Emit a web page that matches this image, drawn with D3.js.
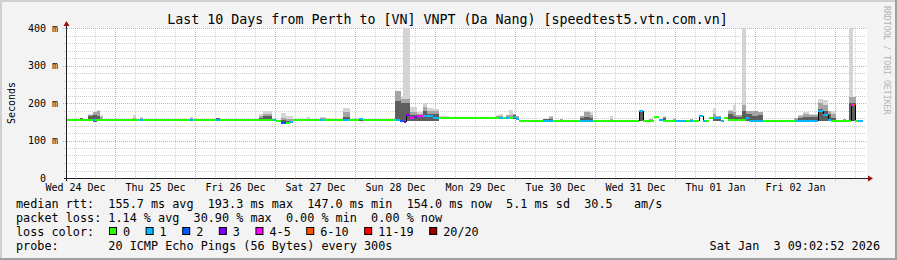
<!DOCTYPE html>
<html>
<head>
<meta charset="utf-8">
<script src="https://cdn.jsdelivr.net/npm/d3@7"></script>
<style>
  html, body { margin: 0; padding: 0; background: #f3f3f3; }
  svg { display: block; }
  text { font-family: "DejaVu Sans Mono", monospace; white-space: pre; }
</style>
</head>
<body>
<svg id="chart" width="897" height="260"></svg>
<script>
const title = 'Last 10 Days from Perth to [VN] VNPT (Da Nang) [speedtest5.vtn.com.vn]';
const startTime = new Date(2025, 11, 24, 9, 18);
const endTime = new Date(2026, 0, 3, 9, 18);
const yTicks = [0, 100, 200, 300, 400];

const lossLabels = ['0', '1', '2', '3', '4-5', '6-10', '11-19', '20/20'];
const lossColors = ['#26ff00', '#00b8ff', '#0059ff', '#7e00ff', '#ff00ff', '#ff5500', '#ff0000', '#a10000'];

// median rtt, step series: start hour (from startTime), value in ms, loss class
const medianH = [0, 8.1, 8.7, 9.6, 22.2, 23.1, 37.2, 38.1, 45.0, 46.2, 62.1, 63.0, 64.5, 66.0, 67.2, 68.1,
  76.2, 77.1, 83.1, 84.9, 87.9, 89.1, 99.0, 100.2, 101.4, 102.0, 103.2, 104.4, 105.3, 107.1, 108.0, 110.1,
  111.9, 129.9, 131.1, 132.0, 132.9, 134.1, 135.0, 135.9, 143.1, 146.1, 154.2, 158.1, 171.9, 173.1, 176.4,
  177.9, 179.1, 183.0, 186.0, 187.2, 188.1, 189.9, 191.1, 192.0, 192.9, 194.1, 196.5, 197.4, 198.6, 204.0,
  204.9, 209.1, 219.0, 225.6, 227.1, 228.6, 229.5, 235.5, 236.1, 236.7, 237.6];
const medianMs = [154, 155, 155, 154, 154, 154, 154, 154, 154, 154, 155, 153, 147, 147, 150, 154,
  154, 154, 155, 154, 157, 154, 155, 151, 150, 167, 161, 163, 165, 165, 166, 161,
  160, 160, 160, 160, 160, 164, 157, 153, 153, 153, 153, 153, 180, 153, 163,
  155, 153, 153, 153, 153, 153, 166, 153, 153, 159, 159, 153, 159, 154, 160,
  153, 153, 153, 178, 167, 155, 153, 194, 195, 153, 153];
const medianLoss = [0, 1, 0, 0, 1, 0, 1, 0, 1, 0, 1, 0, 2, 0, 1, 0,
  1, 0, 1, 0, 1, 0, 1, 2, 3, 3, 4, 3, 4, 1, 1, 1,
  0, 1, 0, 1, 0, 1, 1, 0, 1, 0, 1, 0, 1, 0, 0,
  1, 0, 1, 0, 1, 0, 1, 1, 0, 0, 1, 1, 0, 0, 1,
  1, 0, 1, 1, 1, 1, 0, 4, 5, 0, 1];
const medianEndH = 239.1;

// smoke (ping spread): hour range, low and the tops of the dark / mid / light bands in ms
const smokeFromH = [4.2, 6.6, 8.1, 9.3, 10.2, 20.1, 22.2, 37.2, 45.0, 57.9, 59.1, 64.5, 66.0, 68.1, 72.0, 76.2,
  78.0, 80.1, 83.1, 87.9, 98.7, 100.5, 101.1, 103.2, 105.3, 107.1, 108.3, 110.1, 111.9, 129.0, 129.9, 132.0,
  132.9, 134.1, 135.0, 143.1, 144.9, 148.2, 154.2, 155.4, 157.2, 163.2, 171.9, 174.9, 179.1, 182.1, 187.2,
  194.1, 195.0, 198.6, 200.1, 201.0, 202.8, 204.0, 205.8, 207.6, 218.4, 219.6, 221.1, 222.9, 225.6, 227.1,
  228.6, 229.5, 233.1, 234.9, 236.1];
const smokeToH = [5.1, 8.1, 9.3, 10.2, 11.1, 21.0, 23.1, 38.1, 46.2, 59.1, 61.8, 66.0, 68.1, 69.9, 73.2, 78.0,
  79.2, 82.2, 85.2, 89.1, 100.5, 101.1, 103.2, 105.3, 107.1, 108.3, 110.1, 111.9, 114.9, 129.9, 131.1, 132.9,
  134.1, 135.0, 135.9, 144.9, 146.1, 149.1, 155.4, 157.2, 158.1, 164.1, 173.1, 176.1, 180.0, 183.0, 188.1,
  195.0, 196.5, 200.1, 201.0, 202.8, 204.0, 205.8, 207.6, 209.1, 219.6, 221.1, 222.9, 225.6, 227.1, 228.6,
  229.5, 231.0, 234.0, 236.1, 237.0];
const smokeLow = [151, 151, 150, 151, 151, 151, 151, 151, 151, 151, 151, 145, 146, 151, 151, 151,
  151, 151, 151, 151, 151, 151, 151, 151, 151, 151, 151, 151, 158, 158, 158, 158,
  158, 158, 155, 151, 151, 151, 151, 151, 151, 151, 151, 151, 151, 151, 151,
  151, 151, 151, 151, 151, 151, 151, 151, 151, 151, 151, 151, 151, 151, 151,
  151, 151, 151, 151, 151];
const smokeDark = [159, 165, 168, 166, 158, 158, 157, 158, 160, 160, 165, 155, 152, 154, 151, 158,
  151, 158, 163, 158, 205, 200, 200, 168, 165, 178, 170, 170, 160, 160, 160, 162,
  162, 167, 160, 158, 158, 155, 160, 163, 160, 151, 180, 156, 160, 156, 156,
  160, 160, 170, 165, 163, 180, 170, 166, 168, 156, 160, 163, 162, 185, 180,
  170, 160, 156, 200, 200];
const smokeMid = [160, 168, 175, 180, 163, 160, 160, 160, 161, 165, 172, 160, 158, 156, 151, 160,
  151, 158, 177, 158, 232, 212, 212, 177, 170, 190, 178, 180, 160, 166, 165, 168,
  168, 170, 165, 158, 163, 157, 165, 175, 168, 158, 181, 158, 164, 158, 158,
  170, 165, 178, 175, 168, 195, 178, 178, 176, 160, 165, 170, 168, 199, 195,
  178, 170, 158, 215, 215];
const smokeLight = [160, 170, 176, 182, 168, 167, 164, 164, 161, 172, 180, 173, 165, 158, 162, 163,
  161, 158, 187, 158, 232, 215, 430, 189, 177, 200, 188, 183, 166, 168, 172, 168,
  181, 170, 165, 158, 166, 157, 165, 180, 175, 166, 181, 158, 165, 158, 158,
  186, 165, 181, 195, 168, 430, 178, 178, 176, 160, 168, 177, 172, 212, 208,
  180, 178, 158, 430, 215];

const rttLabel = 'median rtt:';
const rttStats = ['155.7 ms avg', '193.3 ms max', '147.0 ms min', '154.0 ms now', '5.1 ms sd', '30.5   am/s'];
const lossLabel = 'packet loss:';
const lossStats = ['1.14 % avg', '30.90 % max', '0.00 % min', '0.00 % now'];
const probeLabel = 'probe:';
const probeText = '20 ICMP Echo Pings (56 Bytes) every 300s';
const stampText = 'Sat Jan  3 09:02:52 2026';

// layout
const width = 897, height = 260;
const plot = {left: 66, right: 866, top: 28, bottom: 178};
const smokeColors = {light: '#d4d4d4', mid: '#a4a4a4', dark: '#5e5e5e'};

const svg = d3.select('#chart');
const at = h => new Date(+startTime + h * 3600e3);

const x = d3.scaleTime().domain([startTime, endTime]).range([plot.left, plot.right]);
const y = d3.scaleLinear().domain([0, 400]).range([plot.bottom, plot.top]);

// frame
svg.append('rect').attr('width', width).attr('height', height).attr('fill', '#f3f3f3');
svg.append('path').attr('d', `M0,${height}V0H${width}`).attr('fill', 'none')
  .attr('stroke', '#d0d0d0').attr('stroke-width', 4);
svg.append('path').attr('d', `M0,${height}H${width}V0`).attr('fill', 'none')
  .attr('stroke', '#a0a0a0').attr('stroke-width', 4);

svg.append('rect')
  .attr('x', plot.left).attr('y', plot.top)
  .attr('width', plot.right - plot.left + 1).attr('height', plot.bottom - plot.top)
  .attr('fill', '#ffffff');

svg.append('defs').append('clipPath').attr('id', 'clip')
  .append('rect')
    .attr('x', plot.left).attr('y', plot.top)
    .attr('width', plot.right - plot.left).attr('height', plot.bottom - plot.top);

// grid
const grid = svg.append('g').attr('shape-rendering', 'crispEdges');
const sixHours = d3.timeHour.every(6).range(startTime, endTime);
const minorX = sixHours.filter(d => d.getHours() !== 0);
const majorX = sixHours.filter(d => d.getHours() === 0);
const minorY = d3.range(20, 401, 20).filter(v => v % 100 !== 0);
const majorY = [100, 200, 300, 400];

grid.selectAll('.vmin').data(minorX).enter().append('line')
  .attr('x1', d => Math.round(x(d)) + 0.5).attr('x2', d => Math.round(x(d)) + 0.5)
  .attr('y1', plot.top).attr('y2', plot.bottom + 2)
  .attr('stroke', '#cfcfcf').attr('stroke-dasharray', '1,1');
grid.selectAll('.hmin').data(minorY).enter().append('line')
  .attr('x1', plot.left - 2).attr('x2', plot.right)
  .attr('y1', d => Math.round(y(d)) + 0.5).attr('y2', d => Math.round(y(d)) + 0.5)
  .attr('stroke', '#cfcfcf').attr('stroke-dasharray', '1,1');
grid.selectAll('.vmaj').data(majorX).enter().append('line')
  .attr('x1', d => Math.round(x(d)) + 0.5).attr('x2', d => Math.round(x(d)) + 0.5)
  .attr('y1', plot.top).attr('y2', plot.bottom + 3)
  .attr('stroke', '#eaa0a0').attr('stroke-dasharray', '1,1');
grid.selectAll('.hmaj').data(majorY).enter().append('line')
  .attr('x1', plot.left - 3).attr('x2', plot.right)
  .attr('y1', d => Math.round(y(d)) + 0.5).attr('y2', d => Math.round(y(d)) + 0.5)
  .attr('stroke', '#eaa0a0').attr('stroke-dasharray', '1,1');

// smoke
const smoke = svg.append('g').attr('clip-path', 'url(#clip)').attr('shape-rendering', 'crispEdges');
const smokeData = smokeFromH.map((h, i) => ({
  from: at(h), to: at(smokeToH[i]), low: smokeLow[i],
  dark: smokeDark[i], mid: smokeMid[i], light: smokeLight[i]
}));
['light', 'mid', 'dark'].forEach(band => {
  smoke.selectAll('.s-' + band)
    .data(smokeData.filter(d => d[band] > d.low))
    .enter()
    .append('rect')
      .attr('x', d => x(d.from))
      .attr('width', d => x(d.to) - x(d.from))
      .attr('y', d => y(d[band]))
      .attr('height', d => y(d.low) - y(d[band]))
      .attr('fill', smokeColors[band]);
});

// median, coloured by packet loss
const medianData = medianH.map((h, i) => ({
  from: at(h), to: at(i < medianH.length - 1 ? medianH[i + 1] : medianEndH),
  ms: medianMs[i], loss: medianLoss[i]
}));
const jumps = [];
medianData.forEach((d, i) => {
  if (i > 0 && Math.abs(y(d.ms) - y(medianData[i - 1].ms)) > 4) {
    jumps.push({t: d.from, a: medianData[i - 1].ms, b: d.ms});
  }
});
const median = svg.append('g').attr('clip-path', 'url(#clip)').attr('shape-rendering', 'crispEdges');
median.selectAll('line.jump')
  .data(jumps)
  .enter()
  .append('line')
    .attr('x1', d => Math.round(x(d.t)) + 0.5).attr('x2', d => Math.round(x(d.t)) + 0.5)
    .attr('y1', d => y(d.a)).attr('y2', d => y(d.b))
    .attr('stroke', '#000');
median.selectAll('rect')
  .data(medianData)
  .enter()
  .append('rect')
    .attr('x', d => x(d.from))
    .attr('width', d => x(d.to) - x(d.from))
    .attr('y', d => y(d.ms) - 1)
    .attr('height', 2)
    .attr('fill', d => lossColors[d.loss]);

// axes
const noons = d3.timeDay.range(d3.timeDay.floor(startTime), endTime)
  .map(d => d3.timeHour.offset(d, 12))
  .filter(d => d >= startTime && d <= endTime);

const xAxis = svg.append('g')
  .attr('transform', `translate(0,${plot.bottom})`)
  .call(d3.axisBottom(x).tickValues(noons).tickFormat(d3.timeFormat('%a %d %b')).tickSize(0).tickPadding(6));
const yAxis = svg.append('g')
  .attr('transform', `translate(${plot.left},0)`)
  .call(d3.axisLeft(y).tickValues(yTicks).tickFormat(d => d ? d + ' m' : '0').tickSize(0).tickPadding(8));
[xAxis, yAxis].forEach(g => {
  g.select('.domain').remove();
  g.selectAll('text').attr('font-family', '"DejaVu Sans Mono", monospace').attr('font-size', 10).attr('fill', '#000');
});
yAxis.selectAll('text').filter(d => d === 0).attr('dx', -12);

const axisG = svg.append('g').attr('shape-rendering', 'crispEdges');
axisG.append('line')
  .attr('x1', plot.left - 2).attr('x2', plot.right + 3)
  .attr('y1', plot.bottom + 0.5).attr('y2', plot.bottom + 0.5)
  .attr('stroke', '#202020');
axisG.append('line')
  .attr('x1', plot.left + 0.5).attr('x2', plot.left + 0.5)
  .attr('y1', plot.bottom + 3).attr('y2', plot.top - 3)
  .attr('stroke', '#202020');
svg.append('path')
  .attr('d', `M${plot.right + 2},${plot.bottom - 2.5}L${plot.right + 7},${plot.bottom + 0.5}L${plot.right + 2},${plot.bottom + 3.5}Z`)
  .attr('fill', '#9a1010');
svg.append('path')
  .attr('d', `M${plot.left - 2.5},${plot.top - 2}L${plot.left + 0.5},${plot.top - 7}L${plot.left + 3.5},${plot.top - 2}Z`)
  .attr('fill', '#9a1010');

// titles
svg.append('text')
  .attr('x', 447.5).attr('y', 23.8)
  .attr('text-anchor', 'middle')
  .attr('font-size', 13.3)
  .text(title);
svg.append('text')
  .attr('transform', `translate(15,${(plot.top + plot.bottom) / 2}) rotate(-90)`)
  .attr('text-anchor', 'middle')
  .attr('font-size', 10)
  .text('Seconds');
svg.append('text')
  .attr('transform', 'translate(884,6) rotate(90)')
  .attr('font-size', 8.2)
  .attr('fill', '#b4b4b4')
  .text('RRDTOOL / TOBI OETIKER');

// legend
const legend = svg.append('g').attr('font-size', 11.8).attr('fill', '#000');
const rows = [207.5, 221.8, 236, 250.2];

legend.append('text').attr('x', 16).attr('y', rows[0])
  .text(rttLabel.padEnd(13) + rttStats.join('  '));
legend.append('text').attr('x', 16).attr('y', rows[1])
  .text(lossLabel.padEnd(13) + lossStats.join('  '));

legend.append('text').attr('x', 16).attr('y', rows[2]).text('loss color:');
let lx = 109;
lossLabels.forEach((lab, i) => {
  legend.append('rect')
    .attr('x', lx + 0.5).attr('y', rows[2] - 8.5)
    .attr('width', 7).attr('height', 7)
    .attr('fill', lossColors[i]).attr('stroke', '#000');
  const t = legend.append('text').attr('x', lx + 14).attr('y', rows[2]).text(lab);
  lx = lx + 14 + t.node().getComputedTextLength() + 15.5;
});

legend.append('text').attr('x', 16).attr('y', rows[3]).text(probeLabel.padEnd(13) + probeText);
legend.append('text').attr('x', 880).attr('y', rows[3]).attr('text-anchor', 'end').text(stampText);
</script>
</body>
</html>
